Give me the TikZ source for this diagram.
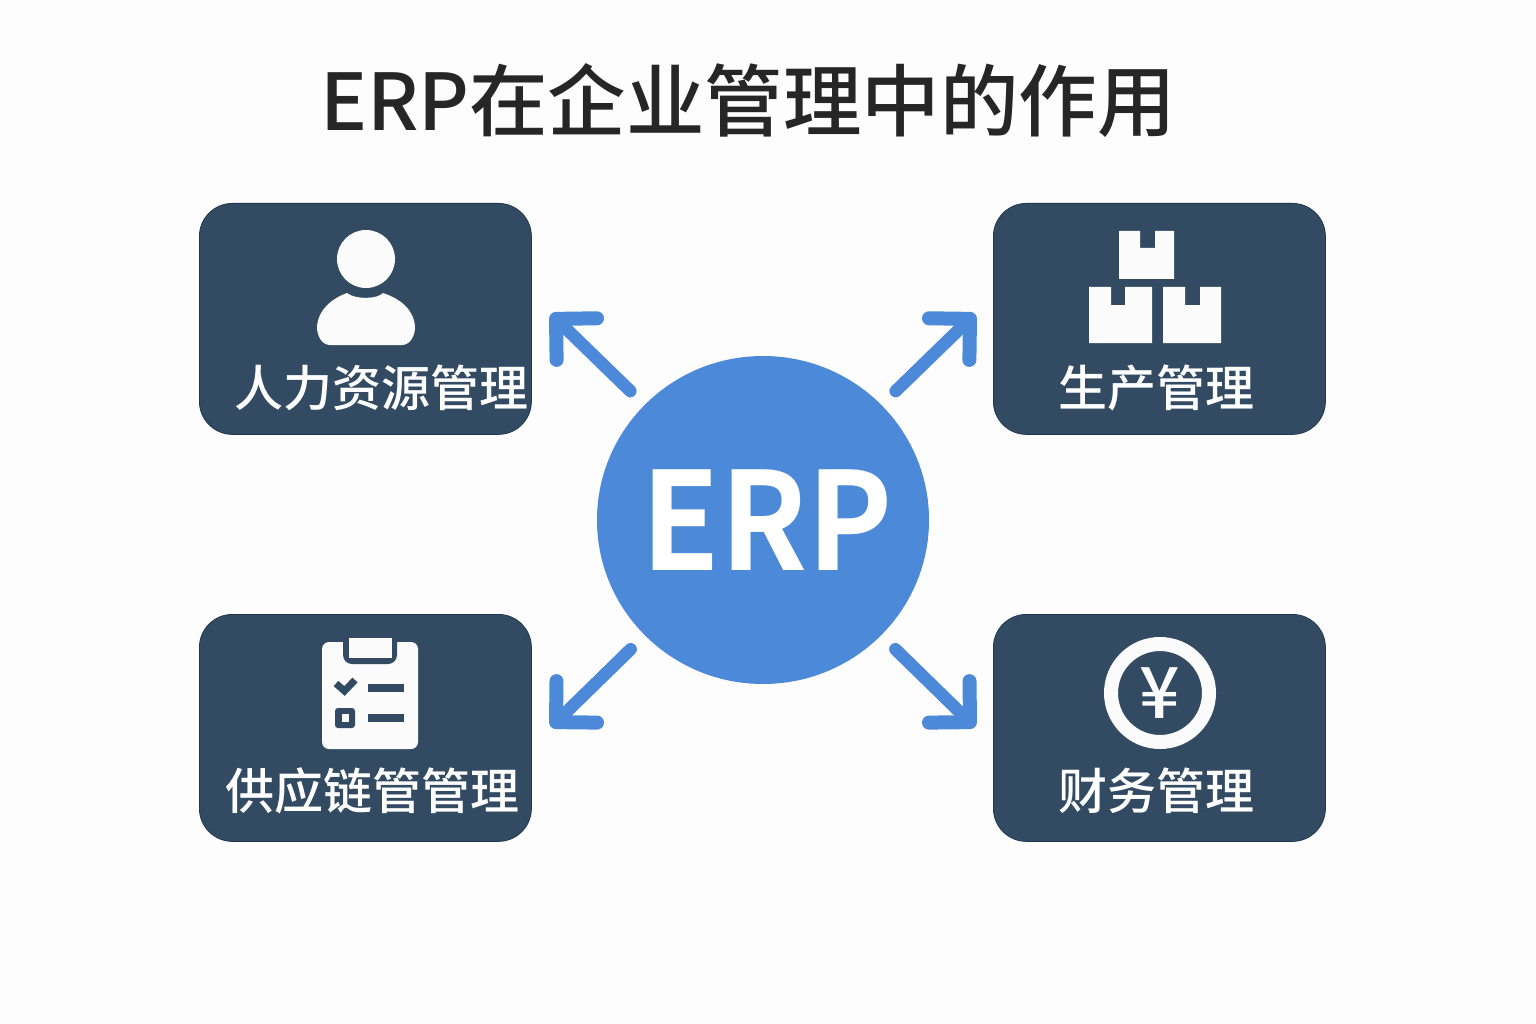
\documentclass[tikz,border=0pt]{standalone}
\usepackage{fontspec}
\usetikzlibrary{arrows.meta,shapes.geometric}
\setmainfont{Noto Sans CJK SC Medium}[BoldFont={Noto Sans CJK SC Bold}]
\definecolor{bgc}{HTML}{FDFDFD}
\definecolor{boxc}{HTML}{324B63}
\definecolor{boxe}{HTML}{1F3850}
\definecolor{bluec}{HTML}{4C89D9}
\definecolor{titlec}{HTML}{262626}
\definecolor{iconc}{HTML}{FBFBFC}
\tikzset{
  card/.style={fill=boxc,draw=boxe,line width=0.8pt,rounded corners=33pt,minimum width=332pt,inner sep=0pt,anchor=north west},
  cardlabel/.style={text=white,font=\fontsize{49}{49}\selectfont,inner sep=0pt},
  spoke/.style={draw=bluec,line width=12.5pt,line cap=round,line join=round,shorten <=185pt,
    -{Straight Barb[round,length=29pt,width=58pt,line width=14pt]}},
  icon/.style={fill=iconc,draw=none},
  icondark/.style={fill=boxc,draw=none}
}
\begin{document}
\begin{tikzpicture}[x=1pt,y=-1pt]
\useasboundingbox (0,0) rectangle (1536,1024);
\fill[bgc] (0,0) rectangle (1536,1024);

\node[text=titlec,font=\fontsize{78.5}{78}\selectfont,inner sep=0pt] (title) at (748,101) {ERP在企业管理中的作用};

\node[card,minimum height=231pt] (hr) at (199,203) {};
\node[card,minimum height=231pt] (prod) at (993,203) {};
\node[card,minimum height=227pt] (supply) at (199,614) {};
\node[card,minimum height=227pt] (fin) at (993,614) {};

\node[ellipse,fill=bluec,minimum width=332pt,minimum height=328pt,inner sep=0pt] (erp) at (763,520) {};
\node[text=white,font=\bfseries\fontsize{136}{136}\selectfont,inner sep=0pt,xscale=0.94] (erplabel) at (767,520) {ERP};

\coordinate (tipTL) at (551,314);
\coordinate (tipTR) at (975,314);
\coordinate (tipBL) at (551,727);
\coordinate (tipBR) at (975,727);
\draw[spoke] (erp.center) -- (tipTL);
\draw[spoke] (erp.center) -- (tipTR);
\draw[spoke] (erp.center) -- (tipBL);
\draw[spoke] (erp.center) -- (tipBR);

% person
\fill[icon] (330,345) .. controls (322,345) and (317,336) .. (317,327)
  .. controls (318,310) and (331,299) .. (347,293)
  .. controls (355,299.5) and (377,299.5) .. (383,293)
  .. controls (401,299) and (414,310) .. (415,327)
  .. controls (415,336) and (410,345) .. (402,345) -- cycle;
\fill[icon] (366,259) circle (29);

% boxes
\fill[icon] (1119,231) -- (1140,231) -- (1140,248) -- (1155,248) -- (1155,231) -- (1174,231) -- (1174,279) -- (1119,279) -- cycle;
\fill[icon] (1089,287) -- (1111,287) -- (1111,305) -- (1125,305) -- (1125,287) -- (1152,287) -- (1152,343) -- (1089,343) -- cycle;
\fill[icon] (1163,287) -- (1185,287) -- (1185,305) -- (1200,305) -- (1200,287) -- (1221,287) -- (1221,343) -- (1163,343) -- cycle;

% clipboard
\fill[icon,rounded corners=7pt] (322,642) rectangle (418,749);
\fill[icondark] (343,636) -- (397,636) -- (397,655) arc (0:90:9) -- (352,664) arc (90:180:9) -- cycle;
\fill[icon] (349,638) rectangle (392,658);
\draw[boxc,line width=7pt] (336,683.5) -- (344.5,691) -- (355,680);
\fill[icondark] (368,684) rectangle (404,692);
\fill[icondark,rounded corners=3pt] (335,708) rectangle (355,728);
\fill[icon] (342,714) rectangle (349,722);
\fill[icondark] (368,714) rectangle (404,722);

% coin
\draw[iconc,line width=14pt] (1160,693) circle (49);
\node[text=iconc,font=\fontsize{71}{71}\selectfont,inner sep=0pt] (yen) at (1160,693) {¥};

\node[cardlabel] (hrlabel) at (381,388) {人力资源管理};
\node[cardlabel] (prodlabel) at (1156,388) {生产管理};
\node[cardlabel] (supplylabel) at (372,791) {供应链管管理};
\node[cardlabel] (finlabel) at (1156,791) {财务管理};
\end{tikzpicture}
\end{document}
